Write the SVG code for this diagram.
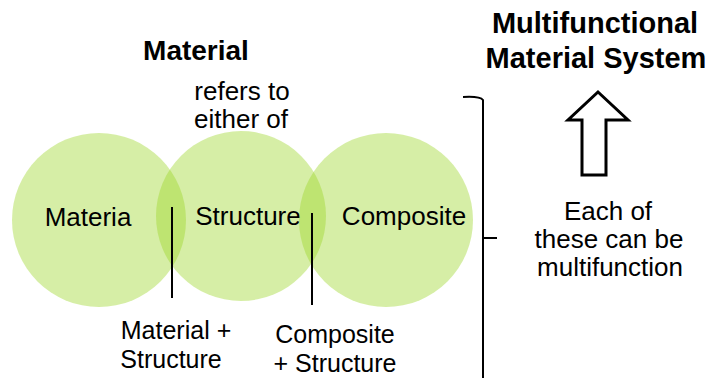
<svg xmlns="http://www.w3.org/2000/svg" width="709" height="378" viewBox="0 0 709 378">
  <style>
    text { font-family: "Liberation Sans", Arial, sans-serif; fill: #000; text-anchor: middle; }
    .t { font-size: 26px; }
    .s { font-size: 25px; }
    .b { font-weight: bold; }
    .circ { fill: rgb(155,213,38); fill-opacity: 0.41; }
    .ln { stroke: #000; stroke-width: 2; fill: none; }
  </style>
  <rect width="709" height="378" fill="#fff"/>

  <text class="b" x="196" y="60" font-size="28">Material</text>
  <text class="t" x="242" y="100">refers to</text>
  <text class="t" x="241" y="128">either of</text>

  <g id="materia">
    <circle class="circ" cx="99" cy="220" r="87"/>
    <text class="t" x="88" y="226">Materia</text>
  </g>
  <g id="structure">
    <circle class="circ" cx="241" cy="216" r="85"/>
    <text class="t" x="248" y="225">Structure</text>
  </g>
  <g id="composite">
    <circle class="circ" cx="386" cy="220" r="87"/>
    <text class="t" x="404" y="225">Composite</text>
  </g>

  <g id="connectors">
    <line class="ln" x1="172" y1="207" x2="172" y2="298"/>
    <line class="ln" x1="312" y1="213" x2="312" y2="305"/>
    <path class="ln" d="M463 97 Q480 96 483 100 L483 378 M483 238 L497 238"/>
  </g>

  <g id="material-structure">
    <text class="s" x="176" y="339">Material +</text>
    <text class="s" x="171" y="368">Structure</text>
  </g>
  <g id="composite-structure">
    <text class="s" x="335" y="343">Composite</text>
    <text class="s" x="335" y="372">+ Structure</text>
  </g>

  <g id="system">
    <text class="b" x="595" y="33" font-size="29">Multifunctional</text>
    <text class="b" x="596" y="68" font-size="29">Material System</text>
    <path d="M598 92 L628 120 L606 120 L606 175 L582 175 L582 120 L568 120 Z" fill="#fff" stroke="#000" stroke-width="3" stroke-linejoin="miter"/>
  </g>

  <g id="note">
    <text class="t" x="608" y="220">Each of</text>
    <text class="t" x="609" y="248">these can be</text>
    <text class="t" x="610" y="276">multifunction</text>
  </g>
</svg>
